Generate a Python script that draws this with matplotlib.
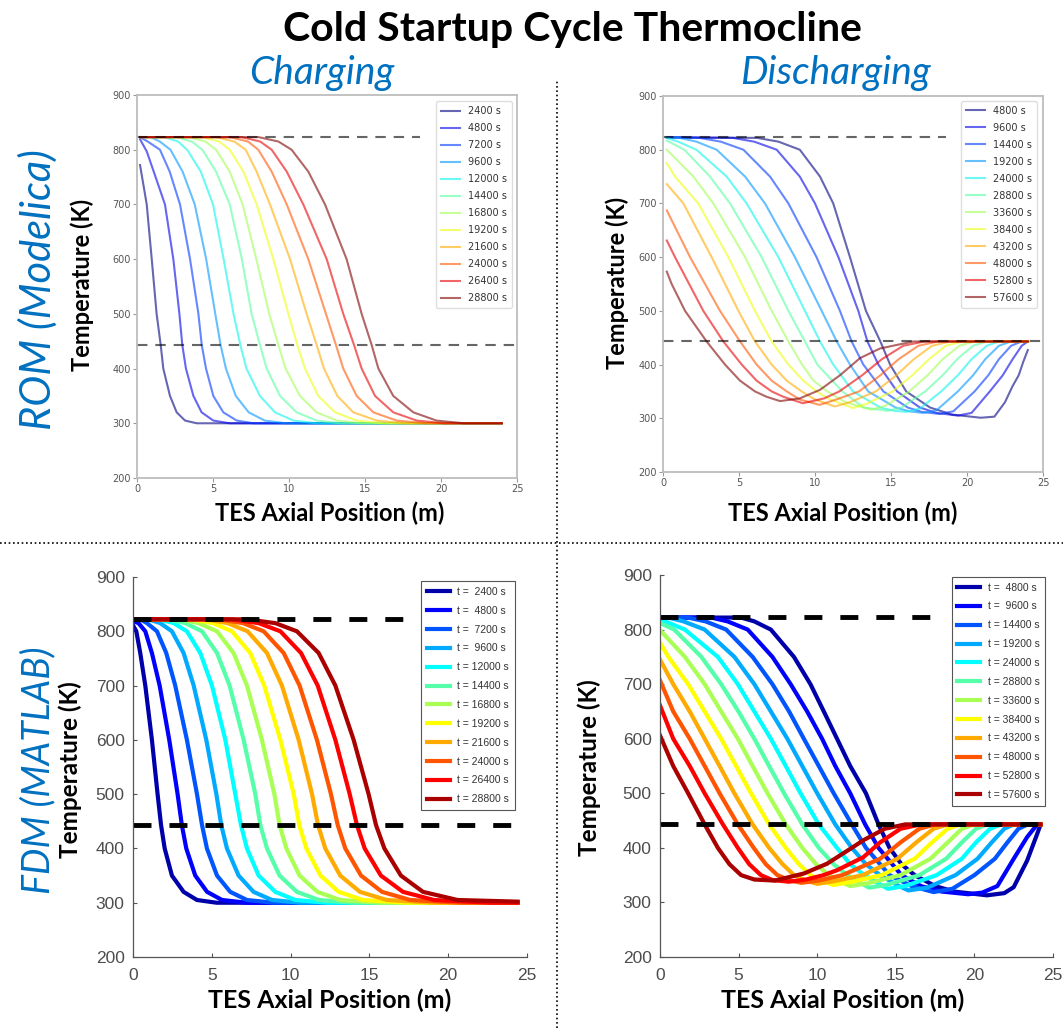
import numpy as np
import matplotlib
matplotlib.use("Agg")
import matplotlib.pyplot as plt
from matplotlib.lines import Line2D
from matplotlib.font_manager import FontProperties

# ------------------------------------------------------------------ data
CHG_TIMES = [2400, 4800, 7200, 9600, 12000, 14400, 16800, 19200, 21600, 24000, 26400, 28800]
DIS_TIMES = [4800, 9600, 14400, 19200, 24000, 28800, 33600, 38400, 43200, 48000, 52800, 57600]

T_HOT = 823     # upper reference temperature (K)
T_COLD = 443    # lower reference temperature (K)
ROM_REF_END = [18.6, 25.0]   # x extent of the two reference lines, ROM panels
FDM_REF_END = [17.2, 24.2]   # x extent of the two reference lines, FDM panels

X_TICKS = [0, 5, 10, 15, 20, 25]
Y_TICKS = [200, 300, 400, 500, 600, 700, 800, 900]

# ROM (Modelica) - charging: axial position (m) and temperature (K) per profile
ROM_CHG_X = [
    [0.2, 0.64, 0.97, 1.29, 1.56, 1.73, 2.17, 2.61, 3.16, 3.93, 24.0],
    [0.2, 0.64, 1.1, 1.84, 2.39, 2.79, 2.98, 3.22, 3.71, 4.25, 5.02, 6.1, 24.0],
    [0.2, 0.7, 1.51, 2.15, 2.83, 3.49, 4.04, 4.26, 4.54, 5.02, 5.68, 6.56, 7.65, 24.0],
    [0.2, 0.9, 1.5, 2.2, 3.0, 3.8, 4.55, 5.15, 5.5, 5.85, 6.5, 7.35, 8.4, 9.8, 24.0],
    [0.2, 1.8, 2.7, 3.3, 4.2, 5.0, 5.7, 6.35, 6.8, 7.2, 8.09, 9.08, 10.29, 11.8, 24.0],
    [0.2, 2.6, 3.6, 4.3, 5.2, 6.1, 6.9, 7.54, 8.09, 8.53, 9.41, 10.5, 11.82, 13.4, 24.0],
    [0.2, 3.4, 4.5, 5.2, 6.1, 6.95, 7.85, 8.7, 9.3, 9.78, 10.72, 11.82, 13.14, 14.8, 24.0],
    [0.2, 4.3, 5.4, 6.1, 7.0, 7.87, 8.97, 9.96, 10.55, 11.05, 11.93, 13.03, 14.45, 16.2, 24.0],
    [0.2, 5.2, 6.4, 7.15, 7.87, 8.75, 10.07, 11.16, 11.82, 12.3, 13.18, 14.23, 15.77, 17.6, 24.0],
    [0.2, 6.1, 7.3, 7.98, 8.86, 9.85, 11.27, 12.43, 13.09, 13.57, 14.45, 15.55, 17.08, 19.0, 24.0],
    [0.2, 6.9, 8.1, 8.86, 9.85, 10.94, 12.48, 13.57, 14.28, 14.78, 15.66, 16.86, 18.4, 20.2, 24.0],
    [0.2, 8.0, 9.3, 10.17, 11.27, 12.37, 13.79, 14.78, 15.44, 15.88, 16.86, 18.18, 19.7, 21.5, 24.0],
]
ROM_CHG_T = [
    [772, 700, 600, 500, 443, 400, 350, 320, 305, 300, 300],
    [819, 797, 760, 700, 600, 500, 443, 400, 350, 320, 305, 300, 300],
    [823, 815, 800, 760, 700, 600, 500, 443, 400, 350, 320, 305, 300, 300],
    [823, 823, 815, 800, 760, 700, 600, 500, 443, 400, 350, 320, 305, 300, 300],
    [823, 823, 815, 800, 760, 700, 600, 500, 443, 400, 350, 320, 305, 300, 300],
    [823, 823, 815, 800, 760, 700, 600, 500, 443, 400, 350, 320, 305, 300, 300],
    [823, 823, 815, 800, 760, 700, 600, 500, 443, 400, 350, 320, 305, 300, 300],
    [823, 823, 815, 800, 760, 700, 600, 500, 443, 400, 350, 320, 305, 300, 300],
    [823, 823, 815, 800, 760, 700, 600, 500, 443, 400, 350, 320, 305, 300, 300],
    [823, 823, 815, 800, 760, 700, 600, 500, 443, 400, 350, 320, 305, 300, 300],
    [823, 823, 815, 800, 760, 700, 600, 500, 443, 400, 350, 320, 305, 300, 300],
    [823, 823, 815, 800, 760, 700, 600, 500, 443, 400, 350, 320, 305, 300, 300],
]

# FDM (MATLAB) - charging
FDM_CHG_X = [
    [0.0, 0.21, 0.46, 0.78, 1.2, 1.56, 1.78, 2.01, 2.47, 3.21, 4.06, 5.3, 24.4],
    [0.0, 0.35, 0.78, 1.2, 1.69, 2.3, 2.83, 3.1, 3.38, 3.95, 4.7, 5.65, 7.2, 24.4],
    [0.0, 0.46, 0.89, 1.52, 2.11, 2.68, 3.42, 4.06, 4.38, 4.69, 5.33, 6.17, 7.23, 8.92, 24.4],
    [0.0, 0.99, 1.73, 2.47, 3.21, 3.85, 4.65, 5.29, 5.6, 5.96, 6.7, 7.65, 8.82, 10.6, 24.4],
    [0.0, 1.63, 2.58, 3.42, 4.27, 5.01, 5.86, 6.49, 6.85, 7.23, 7.97, 9.03, 10.3, 12.3, 24.4],
    [0.0, 2.26, 3.32, 4.38, 5.33, 6.13, 7.02, 7.76, 8.08, 8.5, 9.3, 10.4, 11.8, 14.0, 24.4],
    [0.0, 3.0, 4.16, 5.33, 6.38, 7.23, 8.18, 8.97, 9.3, 9.73, 10.57, 11.7, 13.15, 15.7, 24.4],
    [0.0, 3.74, 5.07, 6.28, 7.44, 8.33, 9.35, 10.2, 10.55, 11.0, 11.9, 13.05, 14.6, 17.4, 24.4],
    [0.0, 4.59, 6.0, 7.27, 8.5, 9.45, 10.51, 11.36, 11.74, 12.2, 13.15, 14.4, 16.1, 19.1, 24.4],
    [0.0, 5.43, 6.98, 8.29, 9.56, 10.57, 11.67, 12.56, 12.99, 13.47, 14.47, 15.8, 17.6, 20.8, 24.4],
    [0.0, 6.28, 7.97, 9.35, 10.66, 11.72, 12.84, 13.75, 14.21, 14.7, 15.73, 17.13, 19.1, 22.7, 24.4],
    [0.0, 7.23, 9.03, 10.4, 11.78, 12.84, 14.0, 14.95, 15.42, 15.95, 17.0, 18.4, 20.6, 24.4],
]
FDM_CHG_T = [
    [811, 800, 760, 700, 600, 500, 443, 400, 350, 320, 305, 300, 300],
    [819, 815, 800, 760, 700, 600, 500, 443, 400, 350, 320, 305, 300, 300],
    [822, 822, 815, 800, 760, 700, 600, 500, 443, 400, 350, 320, 305, 300, 300],
    [822, 822, 815, 800, 760, 700, 600, 500, 443, 400, 350, 320, 305, 300, 300],
    [822, 822, 815, 800, 760, 700, 600, 500, 443, 400, 350, 320, 305, 300, 300],
    [822, 822, 815, 800, 760, 700, 600, 500, 443, 400, 350, 320, 305, 300, 300],
    [822, 822, 815, 800, 760, 700, 600, 500, 443, 400, 350, 320, 305, 300, 300],
    [822, 822, 815, 800, 760, 700, 600, 500, 443, 400, 350, 320, 305, 300, 300],
    [822, 822, 815, 800, 760, 700, 600, 500, 443, 400, 350, 320, 305, 300, 300],
    [822, 822, 815, 800, 760, 700, 600, 500, 443, 400, 350, 320, 305, 300, 300],
    [822, 822, 815, 800, 760, 700, 600, 500, 443, 400, 350, 320, 305, 300, 300],
    [822, 822, 815, 800, 760, 700, 600, 500, 443, 400, 350, 320, 305, 302],
]

# ROM (Modelica) - discharging
ROM_DIS_X = [
    [0.25, 6.2, 7.6, 9.0, 10.33, 11.2, 12.3, 13.35, 14.3, 14.94, 16.0, 17.57, 19.0, 20.9, 21.8, 22.5, 23.0, 23.4, 23.7, 24.0],
    [0.25, 4.6, 6.0, 7.48, 9.0, 10.0, 11.54, 12.85, 13.45, 14.17, 15.4, 16.9, 18.0, 19.4, 20.3, 21.5, 22.35, 23.0, 23.6, 24.0],
    [0.25, 2.4, 3.8, 5.29, 7.04, 8.25, 10.1, 11.64, 12.41, 13.18, 14.5, 16.1, 17.0, 18.2, 19.1, 20.5, 21.4, 22.1, 22.9, 23.6, 24.0],
    [0.25, 1.1, 2.2, 3.53, 5.4, 6.71, 8.68, 10.44, 11.43, 12.3, 13.5, 15.3, 16.2, 17.1, 18.0, 19.4, 20.4, 21.2, 22.1, 22.9, 24.0],
    [0.25, 1.0, 2.2, 4.19, 5.5, 7.59, 9.34, 10.33, 11.2, 12.5, 14.3, 15.2, 16.0, 16.9, 18.3, 19.4, 20.3, 21.3, 22.1, 24.0],
    [0.25, 1.4, 3.09, 4.41, 6.49, 8.25, 9.34, 10.15, 11.8, 13.2, 14.8, 15.7, 17.25, 18.4, 19.35, 20.4, 21.3, 24.0],
    [0.25, 2.0, 3.31, 5.4, 7.15, 8.25, 9.15, 9.9, 10.8, 12.0, 13.7, 14.6, 16.2, 17.4, 18.4, 19.5, 20.5, 24.0],
    [0.25, 0.79, 2.32, 4.3, 6.05, 7.15, 8.25, 9.23, 10.1, 11.0, 12.5, 13.4, 15.1, 16.4, 17.5, 18.6, 19.7, 24.0],
    [0.25, 1.34, 3.2, 4.96, 6.05, 7.15, 8.14, 9.12, 10.0, 11.3, 12.3, 14.0, 15.35, 16.5, 17.7, 18.9, 24.0],
    [0.25, 0.9, 1.78, 3.75, 5.07, 6.16, 7.15, 8.14, 9.0, 10.3, 11.4, 12.9, 14.3, 15.5, 16.8, 18.1, 24.0],
    [0.25, 0.79, 2.65, 3.97, 5.18, 6.16, 7.15, 7.92, 9.2, 10.6, 11.6, 13.1, 14.4, 15.8, 17.2, 24.0],
    [0.25, 0.57, 1.45, 2.87, 4.08, 5.07, 6.05, 6.82, 7.7, 9.0, 10.33, 11.64, 12.96, 14.28, 16.47, 24.0],
]
ROM_DIS_T = [
    [823, 822, 815, 800, 750, 700, 600, 500, 443, 400, 350, 320, 307, 301, 303, 330, 360, 380, 405, 427],
    [823, 822, 815, 800, 750, 700, 600, 500, 443, 400, 350, 320, 310, 305, 310, 350, 380, 410, 435, 443],
    [823, 822, 815, 800, 750, 700, 600, 500, 443, 400, 350, 320, 312, 308, 313, 350, 380, 410, 435, 443, 443],
    [823, 822, 815, 800, 750, 700, 600, 500, 443, 400, 350, 320, 313, 310, 315, 350, 380, 410, 435, 443, 443],
    [822, 815, 800, 750, 700, 600, 500, 443, 400, 350, 320, 314, 312, 318, 350, 380, 410, 435, 443, 443],
    [817, 800, 750, 700, 600, 500, 443, 400, 350, 320, 314, 320, 350, 380, 410, 435, 443, 443],
    [800, 750, 700, 600, 500, 443, 400, 370, 350, 330, 316, 323, 350, 380, 410, 435, 443, 443],
    [775, 750, 700, 600, 500, 443, 400, 370, 350, 335, 319, 327, 350, 380, 410, 435, 443, 443],
    [736, 700, 600, 500, 443, 400, 370, 350, 335, 322, 330, 350, 380, 410, 435, 443, 443],
    [687, 650, 600, 500, 443, 400, 370, 350, 335, 325, 335, 350, 380, 410, 435, 443, 443],
    [631, 600, 500, 443, 400, 370, 350, 340, 328, 337, 350, 380, 410, 435, 443, 443],
    [573, 550, 500, 443, 400, 370, 350, 340, 332, 337, 353, 380, 412, 430, 443, 443],
]

# FDM (MATLAB) - discharging
FDM_DIS_X = [
    [0.0, 5.15, 6.0, 7.05, 8.52, 9.57, 10.42, 11.26, 12.1, 13.1, 13.9, 14.6, 15.36, 16.2, 17.5, 18.7, 20.8, 21.9, 22.5, 23.36, 24.0, 24.2],
    [0.0, 3.26, 4.3, 5.58, 7.15, 8.31, 9.36, 10.31, 11.15, 12.1, 13.05, 13.9, 15.36, 16.6, 17.9, 19.6, 20.5, 21.46, 22.5, 23.36, 24.0, 24.2],
    [0.0, 1.79, 2.9, 4.21, 5.89, 7.15, 8.21, 9.15, 10.1, 11.05, 12.2, 13.1, 14.6, 16.0, 17.4, 18.6, 20.0, 21.3, 22.1, 22.8, 23.4, 24.2],
    [0.0, 0.53, 1.5, 2.84, 4.73, 6.0, 7.05, 8.1, 9.05, 10.0, 11.15, 12.2, 13.1, 14.0, 15.2, 15.8, 17.0, 18.8, 20.2, 21.1, 21.9, 22.5, 24.2],
    [0.0, 1.58, 3.68, 4.95, 6.0, 7.05, 8.0, 8.94, 10.1, 11.26, 12.1, 13.0, 14.0, 14.5, 15.6, 17.6, 19.2, 20.1, 21.0, 21.7, 24.2],
    [0.0, 0.9, 2.63, 3.89, 4.99, 6.0, 6.94, 7.89, 9.05, 10.1, 11.05, 11.9, 12.8, 13.3, 14.4, 16.5, 18.2, 19.2, 20.1, 20.8, 24.2],
    [0.0, 1.58, 2.84, 3.89, 4.95, 5.89, 6.84, 8.0, 9.05, 9.93, 10.73, 11.5, 12.1, 13.2, 15.3, 17.2, 18.3, 19.2, 20.0, 24.2],
    [0.0, 0.53, 1.79, 2.84, 3.89, 4.84, 5.79, 6.94, 8.0, 8.84, 9.57, 10.3, 11.0, 12.1, 14.1, 16.2, 17.3, 18.3, 19.1, 24.2],
    [0.0, 0.84, 1.89, 2.84, 3.79, 4.73, 5.89, 6.94, 7.8, 8.52, 9.3, 10.0, 11.1, 12.9, 15.1, 16.3, 17.4, 18.3, 24.2],
    [0.0, 0.84, 1.89, 2.84, 3.79, 4.95, 5.96, 6.73, 7.47, 8.3, 9.0, 10.1, 11.6, 14.0, 15.3, 16.5, 17.5, 24.2],
    [0.0, 0.84, 1.89, 2.84, 4.0, 4.95, 5.68, 6.42, 7.15, 8.2, 9.3, 10.4, 11.26, 12.94, 14.0, 15.3, 16.6, 24.2],
    [0.0, 0.84, 1.79, 2.84, 3.68, 4.42, 5.16, 6.0, 7.3, 9.15, 10.63, 12.31, 12.94, 14.3, 15.6, 24.2],
]
FDM_DIS_T = [
    [822, 822, 815, 800, 750, 700, 650, 600, 550, 500, 443, 400, 370, 350, 330, 320, 313, 317, 328, 377, 426, 442],
    [822, 822, 815, 800, 750, 700, 650, 600, 550, 500, 443, 400, 350, 330, 320, 315, 318, 330, 380, 420, 443, 443],
    [822, 822, 815, 800, 750, 700, 650, 600, 550, 500, 443, 400, 350, 330, 319, 325, 350, 380, 410, 435, 443, 443],
    [822, 822, 815, 800, 750, 700, 650, 600, 550, 500, 443, 400, 370, 350, 330, 322, 327, 350, 380, 410, 435, 443, 443],
    [819, 800, 750, 700, 650, 600, 550, 500, 443, 400, 370, 350, 333, 325, 330, 350, 380, 410, 435, 443, 443],
    [812, 800, 750, 700, 650, 600, 550, 500, 443, 400, 370, 350, 335, 327, 332, 350, 380, 410, 435, 443, 443],
    [799, 750, 700, 650, 600, 550, 500, 443, 400, 370, 350, 338, 330, 335, 350, 380, 410, 435, 443, 443],
    [776, 750, 700, 650, 600, 550, 500, 443, 400, 370, 350, 340, 332, 337, 350, 380, 410, 435, 443, 443],
    [745, 700, 650, 600, 550, 500, 443, 400, 370, 350, 340, 334, 339, 350, 380, 410, 435, 443, 443],
    [707, 650, 600, 550, 500, 443, 400, 370, 350, 340, 336, 340, 350, 380, 410, 435, 443, 443],
    [661, 600, 550, 500, 443, 400, 370, 350, 341, 338, 342, 350, 359, 383, 410, 435, 443, 443],
    [606, 550, 500, 443, 400, 370, 350, 342, 340, 353, 371, 402, 414, 435, 443, 443],
]

# ------------------------------------------------------------------ style
BLUE_TXT = "#0070C0"
HEAD_FONT = ["Lato", "DejaVu Sans"]
MATLAB_JET12 = [(0, 0, 2/3), (0, 0, 1), (0, 1/3, 1), (0, 2/3, 1), (0, 1, 1), (1/3, 1, 2/3),
                (2/3, 1, 1/3), (1, 1, 0), (1, 2/3, 0), (1, 1/3, 0), (1, 0, 0), (2/3, 0, 0)]
ROM_COLORS = plt.cm.jet(np.linspace(0, 1, 12))

W, H = 1063, 1028
fig = plt.figure(figsize=(W / 100, H / 100), dpi=100)


def axes_px(x0, y0, x1, y1):
    return fig.add_axes([x0 / W, 1 - y1 / H, (x1 - x0) / W, (y1 - y0) / H])


def rom_panel(ax, xs, ts, times, leg_anchor):
    for i, (x, t) in enumerate(zip(xs, ts)):
        ax.plot(x, t, color=ROM_COLORS[i], alpha=0.6, lw=1.5, label=f"{times[i]} s",
                solid_joinstyle="round")
    ax.plot([0, ROM_REF_END[0]], [T_HOT, T_HOT], color="k", alpha=0.6, lw=1.5, dashes=(5, 3.8))
    ax.plot([0, ROM_REF_END[1]], [T_COLD, T_COLD], color="k", alpha=0.6, lw=1.5, dashes=(5, 3.8))
    ax.set_xlim(0, 25)
    ax.set_ylim(200, 900)
    ax.set_xticks(X_TICKS)
    ax.set_yticks(Y_TICKS)
    for s in ax.spines.values():
        s.set_color("#bdbdbd")
        s.set_linewidth(1.3)
    ax.tick_params(direction="out", length=3, width=0.8, color="#9a9a9a",
                   labelsize=7, labelcolor="#555555", pad=1.5)
    handles, labels = ax.get_legend_handles_labels()
    leg = ax.legend(handles[:12], labels[:12], loc="upper right", bbox_to_anchor=leg_anchor,
                    borderaxespad=0, fontsize=7, labelspacing=0.72, handlelength=2.0,
                    handletextpad=0.8, borderpad=0.5, framealpha=0.85, edgecolor="0.85")
    for txt in leg.get_texts():
        txt.set_color("#333333")


def fdm_panel(ax, xs, ts, times, leg_anchor):
    for i, (x, t) in enumerate(zip(xs, ts)):
        ax.plot(x, t, color=MATLAB_JET12[i], lw=3.0, label=f"t = {times[i]:5d} s",
                solid_joinstyle="round")
    ax.plot([0, FDM_REF_END[0]], [T_HOT, T_HOT], color="k", lw=3.5, dashes=(3.7, 3.7))
    ax.plot([0, FDM_REF_END[1]], [T_COLD, T_COLD], color="k", lw=3.5, dashes=(3.7, 3.7))
    ax.set_xlim(0, 25)
    ax.set_ylim(200, 900)
    ax.set_xticks(X_TICKS)
    ax.set_yticks(Y_TICKS)
    ax.spines["top"].set_visible(False)
    ax.spines["right"].set_visible(False)
    for s in ("left", "bottom"):
        ax.spines[s].set_color("#555555")
        ax.spines[s].set_linewidth(0.9)
    ax.tick_params(direction="in", length=3, width=0.8, color="#555555",
                   labelsize=12.5, labelcolor="#4d4d4d")
    ax.tick_params(axis="x", pad=8)
    ax.tick_params(axis="y", pad=6)
    for lab in ax.get_xticklabels() + ax.get_yticklabels():
        lab.set_family(["Liberation Sans", "DejaVu Sans"])
    handles, labels = ax.get_legend_handles_labels()
    leg = ax.legend(handles[:12], labels[:12], loc="upper right", bbox_to_anchor=leg_anchor,
                    borderaxespad=0, prop=FontProperties(family=["Liberation Sans", "DejaVu Sans"], size=7.5),
                    labelspacing=0.85, handlelength=2.2, handletextpad=0.7, borderpad=0.55,
                    fancybox=False, edgecolor="#555555", framealpha=1)
    leg.get_frame().set_linewidth(0.8)
    for txt in leg.get_texts():
        txt.set_color("#333333")


ax_tl = axes_px(137, 95, 517, 478)
ax_tr = axes_px(663, 96, 1043, 472)
ax_bl = axes_px(133, 577, 527, 957)
ax_br = axes_px(660, 575, 1053, 957)

rom_panel(ax_tl, ROM_CHG_X, ROM_CHG_T, CHG_TIMES, (0.987, 0.984))
rom_panel(ax_tr, ROM_DIS_X, ROM_DIS_T, DIS_TIMES, (0.984, 0.987))
fdm_panel(ax_bl, FDM_CHG_X, FDM_CHG_T, CHG_TIMES, (0.9695, 0.989))
fdm_panel(ax_br, FDM_DIS_X, FDM_DIS_T, DIS_TIMES, (0.98, 0.995))


def ftext(x, y, s, **kw):
    fig.text(x / W, 1 - y / H, s, ha="center", va="center", **kw)


ftext(572, 29, "Cold Startup Cycle Thermocline", fontsize=29.5, fontweight="bold",
      family=HEAD_FONT, color="black")
ftext(322, 73, "Charging", fontsize=28, style="italic", family=HEAD_FONT, color=BLUE_TXT)
ftext(835, 73, "Discharging", fontsize=28, style="italic", family=HEAD_FONT, color=BLUE_TXT)
ftext(38, 290, "ROM (Modelica)", fontsize=30, style="italic", family=HEAD_FONT,
      color=BLUE_TXT, rotation=90)
ftext(38, 770, "FDM (MATLAB)", fontsize=27, style="italic", family=HEAD_FONT,
      color=BLUE_TXT, rotation=90)

for (x, y) in [(82, 285), (617, 283)]:
    ftext(x, y, "Temperature (K)", fontsize=17, fontweight="bold", family=HEAD_FONT, rotation=90)
for (x, y) in [(70, 770), (589, 768)]:
    ftext(x, y, "Temperature (K)", fontsize=17.5, fontweight="bold", family=HEAD_FONT, rotation=90)
for (x, y) in [(330, 513), (843, 513)]:
    ftext(x, y, "TES Axial Position (m)", fontsize=17, fontweight="bold", family=HEAD_FONT)
for (x, y) in [(330, 1000), (843, 1000)]:
    ftext(x, y, "TES Axial Position (m)", fontsize=18, fontweight="bold", family=HEAD_FONT)

# dotted separators between the four panels
fig.add_artist(Line2D([557 / W, 557 / W], [0, 1 - 80 / H], transform=fig.transFigure,
                      color="black", lw=1.2, linestyle=(0, (1, 1.6))))
fig.add_artist(Line2D([0, 1], [1 - 543 / H, 1 - 543 / H], transform=fig.transFigure,
                      color="black", lw=1.2, linestyle=(0, (1, 1.6))))

fig.savefig("out.png", dpi=100)
